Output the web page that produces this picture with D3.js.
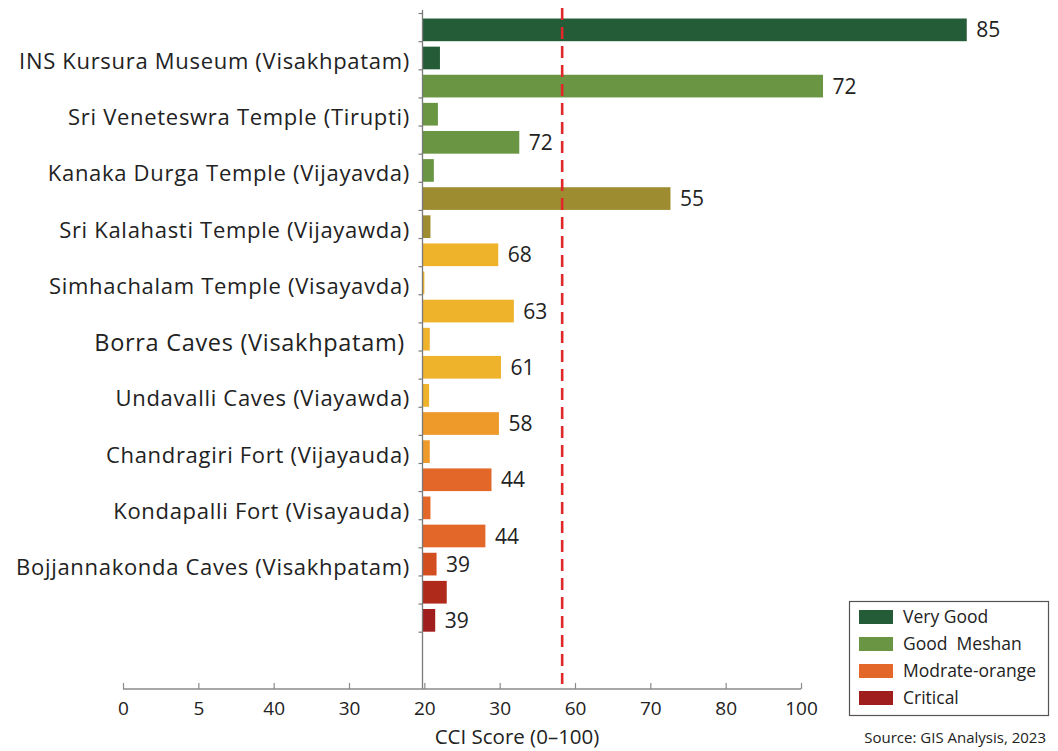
<!DOCTYPE html>
<html><head><meta charset="utf-8">
<script src="https://cdn.jsdelivr.net/npm/d3@7"></script>
<style>
body{margin:0;background:#fff}
svg{display:block}
text{font-family:"Open Sans",sans-serif;fill:#222}
</style>
</head><body>
<svg id="c" width="1058" height="751"></svg>
<script>
// ---- data ----
const rowLabels = ["", "INS Kursura Museum (Visakhpatam)", "", "Sri Veneteswra Temple (Tirupti)", "",
  "Kanaka Durga Temple (Vijayavda)", "", "Sri Kalahasti Temple (Vijayawda)", "", "Simhachalam Temple (Visayavda)", "",
  "Borra Caves (Visakhpatam)", "", "Undavalli Caves (Viayawda)", "", "Chandragiri Fort (Vijayauda)", "",
  "Kondapalli Fort (Visayauda)", "", "Bojjannakonda Caves (Visakhpatam)", "", ""];
const barLengths = [80.2, 2.5, 59.0, 2.2, 14.2, 1.6, 36.5, 1.1, 11.1, 0.2, 13.4, 1.0,
  11.5, 0.9, 11.2, 1.0, 10.1, 1.1, 9.2, 2.0, 3.5, 1.8];
const valueLabels = ["85", "", "72", "", "72", "", "55", "", "68", "", "63", "",
  "61", "", "58", "", "44", "", "44", "39", "", "39"];
const rowTiers = ["veryGood", "veryGood", "good", "good", "good", "good", "olive", "olive",
  "gold", "gold", "gold", "gold", "gold", "gold", "amber", "amber", "orange", "orange", "orange",
  "redOrange", "critical", "criticalDeep"];
const tickLabels = ["0", "5", "40", "30", "20", "30", "60", "70", "80", "100"];
const thresholdValue = 20.6;
const legendLabels = ["Very Good", "Good  Meshan", "Modrate-orange", "Critical"];
const legendTiers = ["veryGood", "good", "orange", "criticalDeep"];

// ---- styles ----
const color = d3.scaleOrdinal()
  .domain(["veryGood", "good", "olive", "gold", "amber", "orange", "redOrange", "critical", "criticalDeep"])
  .range(["#245c38", "#6a9643", "#9e8c30", "#efb22b", "#ee9a2b", "#e4672a", "#d24e1e", "#b02a1c", "#a01e1e"]);

const svg = d3.select("#c");
const y = d3.scaleBand().domain(d3.range(rowLabels.length)).range([15.8, 634.4])
  .paddingInner(0.193).paddingOuter(0.0965);
const xb = d3.scaleLinear().domain([0, 100]).range([422.5, 1100.5]);
const xt = d3.scalePoint().domain(d3.range(tickLabels.length)).range([123, 801]);
const axisY = 689;

// bars
svg.append("g").selectAll("rect").data(barLengths).join("rect")
  .attr("x", xb(0) + 0.5)
  .attr("y", (d, i) => y(i))
  .attr("width", d => Math.max(0.8, xb(d) - xb(0)))
  .attr("height", y.bandwidth())
  .attr("fill", (d, i) => color(rowTiers[i]));

// value labels
svg.append("g").selectAll("text").data(barLengths).join("text")
  .attr("x", d => xb(d) + 10)
  .attr("y", (d, i) => y(i) + y.bandwidth() / 2)
  .attr("dy", "0.36em")
  .attr("font-size", 21)
  .text((d, i) => valueLabels[i]);

// threshold line
svg.append("line")
  .attr("x1", xb(thresholdValue)).attr("x2", xb(thresholdValue))
  .attr("y1", 8).attr("y2", 684)
  .attr("stroke", "#e0282b").attr("stroke-width", 2.6)
  .attr("stroke-dasharray", "12,7");

// vertical axis
const vAxis = svg.append("g");
vAxis.append("line").attr("x1", xb(0)).attr("x2", xb(0)).attr("y1", 10).attr("y2", axisY)
  .attr("stroke", "#7a7a7a").attr("stroke-width", 1.3);
vAxis.append("line").attr("x1", xb(0) - 4).attr("x2", xb(0)).attr("y1", y(0) - 5).attr("y2", y(0) - 5)
  .attr("stroke", "#7a7a7a").attr("stroke-width", 1.2);
vAxis.selectAll("line.tk").data(rowLabels).join("line").attr("class", "tk")
  .attr("x1", xb(0) - 4).attr("x2", xb(0))
  .attr("y1", (d, i) => y(i) + y.bandwidth() + 0.5).attr("y2", (d, i) => y(i) + y.bandwidth() + 0.5)
  .attr("stroke", "#7a7a7a").attr("stroke-width", 1.2);
vAxis.selectAll("text").data(rowLabels).join("text")
  .attr("x", (d, i) => i === 11 ? 405 : 410)
  .attr("y", (d, i) => y(i) + y.bandwidth() / 2 + 3)
  .attr("dy", "0.36em")
  .attr("text-anchor", "end")
  .attr("font-size", (d, i) => i === 11 ? 23.5 : 22)
  .attr("letter-spacing", 0.7)
  .text(d => d);

// bottom axis
const xAxis = d3.axisBottom(xt).tickSize(-6).tickPadding(13).tickFormat(i => tickLabels[i]);
const gx = svg.append("g").attr("transform", `translate(0,${axisY})`).call(xAxis);
gx.select(".domain").attr("d", `M${xt(0)},0H${xt(tickLabels.length - 1)}`)
  .attr("stroke", "#8a8a8a").attr("stroke-width", 1.3);
gx.selectAll(".tick line").attr("stroke", "#8a8a8a").attr("stroke-width", 1.2);
gx.selectAll(".tick text").attr("font-size", 19).attr("font-family", "Open Sans, sans-serif").attr("fill", "#333");

svg.append("text").attr("x", 517).attr("y", 744).attr("text-anchor", "middle")
  .attr("font-size", 20.5).text("CCI Score (0–100)");

// legend
const lg = svg.append("g");
lg.append("rect").attr("x", 849.5).attr("y", 601.5).attr("width", 199).attr("height", 114)
  .attr("fill", "#fff").attr("stroke", "#555").attr("stroke-width", 1.2);
const li = lg.selectAll("g.it").data(legendLabels).join("g").attr("class", "it")
  .attr("transform", (d, i) => `translate(859,${617 + i * 27})`);
li.append("rect").attr("x", 0).attr("y", -7).attr("width", 34).attr("height", 14)
  .attr("fill", (d, i) => color(legendTiers[i]));
li.append("text").attr("x", 44).attr("dy", "0.36em").attr("font-size", 17.5)
  .style("white-space", "pre").text(d => d);

svg.append("text").attr("x", 1046).attr("y", 743).attr("text-anchor", "end")
  .attr("font-size", 15).text("Source: GIS Analysis, 2023");
</script>
</body></html>
